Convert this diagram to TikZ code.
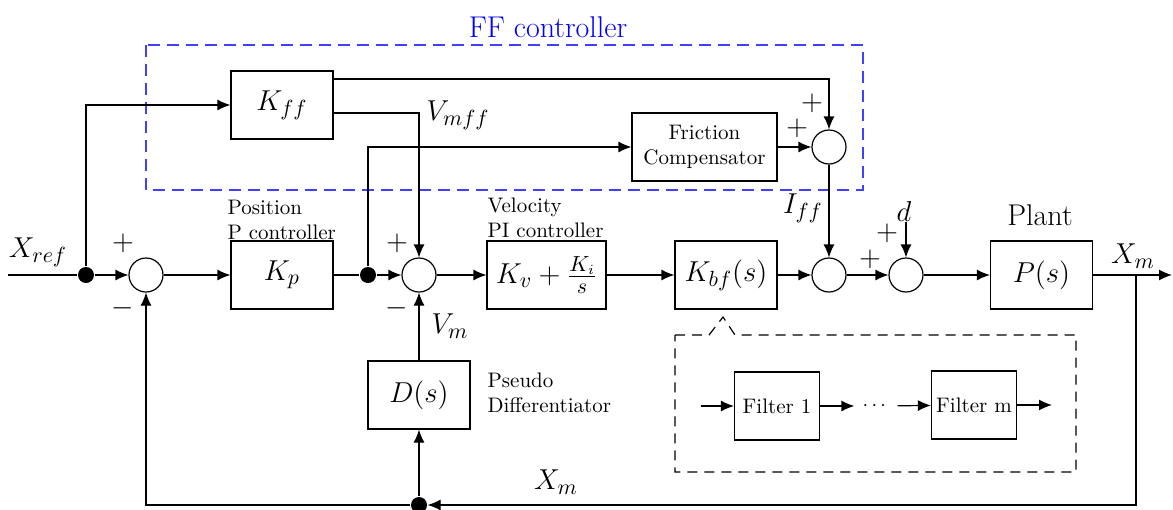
\documentclass[tikz,border=0pt]{standalone}
\usepackage{amsmath}
\usetikzlibrary{arrows.meta}

\begin{document}
\begin{tikzpicture}[x=0.5pt, y=-0.5pt,
    >={Latex[length=6.5pt,width=5.5pt]},
    line width=0.6pt,
    bigfont/.style={font=\fontsize{15}{18}\selectfont},
    smallfont/.style={font=\fontsize{10.5}{12.5}\selectfont},
    block/.style={draw, rectangle, minimum width=51pt, minimum height=34pt, inner sep=0pt, bigfont},
    sumnode/.style={draw, circle, minimum size=17pt, inner sep=0pt},
    dotnode/.style={fill, circle, minimum size=8pt, inner sep=0pt},
    sign/.style={bigfont, inner sep=0pt},
    note/.style={align=left, anchor=west, inner sep=0pt, smallfont}]

  \useasboundingbox (0,0) rectangle (1173,509);

  % FF controller frame
  \draw[blue!75, dash pattern=on 6pt off 3.5pt] (146,45) rectangle (863,190);
  \node[bigfont, color=blue] (fftitle) at (548,27) {FF controller};

  % Upper row
  \node[block] (kff) at (282,105) {$K_{ff}$};
  \node[block, minimum width=72.5pt, smallfont, align=center] (fric) at (704.5,147) {Friction\\Compensator};
  \node[sumnode] (sum5) at (829,147) {};

  % Middle row
  \coordinate (xin) at (8,275);
  \node[dotnode] (dotin) at (86,275) {};
  \node[sumnode] (sum1) at (146,275) {};
  \node[block] (kp) at (282,275) {$K_p$};
  \node[dotnode] (dotv) at (368,275) {};
  \node[sumnode] (sum2) at (419,275) {};
  \node[block, minimum width=59.5pt] (kv) at (546.5,275) {$K_v + \frac{K_i}{s}$};
  \node[block] (kbf) at (726,275) {$K_{bf}(s)$};
  \node[sumnode] (sum3) at (829,275) {};
  \node[sumnode] (sum4) at (906,275) {};
  \node[block] (plant) at (1041.5,275) {$P(s)$};
  \coordinate (din) at (906,222);
  \coordinate (xbr) at (1136,275);
  \coordinate (xout) at (1172,275);

  % Lower row
  \node[block] (diff) at (419,395) {$D(s)$};
  \node[dotnode] (dotfb) at (419,505) {};

  % Filter bank
  \draw[dash pattern=on 5pt off 3.5pt] (675,335) -- (709,335) -- (723,317) -- (735,335)
    -- (1076,335) -- (1076,472) -- (675,472) -- cycle;
  \coordinate (fin) at (701,406);
  \node[block, minimum width=42.5pt, smallfont] (filt1) at (777,406) {Filter 1};
  \node[minimum width=21pt, inner sep=0pt] (fdots) at (876,406) {$\cdots$};
  \node[block, minimum width=42.5pt, smallfont] (filtm) at (974,405) {Filter m};
  \coordinate (fout) at (1052,405);

  % Connectors
  \draw (xin) -- (dotin);
  \draw[->] (dotin) -- (sum1);
  \draw[->] (dotin) |- (kff);
  \draw[->] (sum1) -- (kp);
  \draw (kp) -- (dotv);
  \draw[->] (dotv) -- (sum2);
  \draw[->] (dotv) |- (fric);
  \draw[->] (sum2) -- (kv);
  \draw[->] (kv) -- (kbf);
  \draw[->] (kbf) -- (sum3);
  \draw[->] (sum3) -- (sum4);
  \draw[->] (sum4) -- (plant);
  \draw[->] (plant) -- (xout);
  \draw[->] (din) -- (sum4);
  \draw[->] ([yshift=13pt]kff.east) -| (sum5);
  \draw[->] ([yshift=-4pt]kff.east) -| (sum2);
  \draw[->] (fric) -- (sum5);
  \draw[->] (sum5) -- (sum3);
  \draw[->] (xbr) |- (dotfb);
  \draw[->] (dotfb) -| (sum1);
  \draw[->] (dotfb) -- (diff);
  \draw[->] (diff) -- (sum2);
  \draw[->] (fin) -- (filt1);
  \draw[->] (filt1) -- (fdots);
  \draw[->] (fdots) -- (filtm);
  \draw[->] (filtm) -- (fout);

  % Signs and labels
  \node[sign] (p1) at (123,243) {$+$};
  \node[sign] (m1) at (123,308) {$-$};
  \node[sign] (p2) at (397,243) {$+$};
  \node[sign] (m2) at (397,308) {$-$};
  \node[sign] (p5a) at (812,103) {$+$};
  \node[sign] (p5b) at (797,128) {$+$};
  \node[sign] (p4a) at (887,233) {$+$};
  \node[sign] (p4b) at (870,259) {$+$};
  \node[sign] (dlbl) at (904,211) {$d$};
  \node[sign] (xref) at (38,252) {$X_{ref}$};
  \node[sign] (vmff) at (458,115) {$V_{mff}$};
  \node[sign] (vm) at (450,326) {$V_m$};
  \node[sign] (iff) at (803,208) {$I_{ff}$};
  \node[sign] (xm1) at (1133,256) {$X_m$};
  \node[sign] (xm2) at (556,482) {$X_m$};
  \node[sign] (plantlbl) at (1040,215) {Plant};
  \node[note] (poslbl) at (227,220) {Position\\P controller};
  \node[note] (vellbl) at (487,218) {Velocity\\PI controller};
  \node[note] (difflbl) at (487,393) {Pseudo\\Differentiator};
\end{tikzpicture}
\end{document}
